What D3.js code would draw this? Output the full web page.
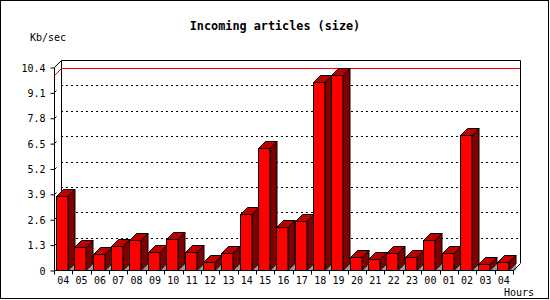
<!DOCTYPE html>
<html><head><meta charset="utf-8">
<script src="https://cdn.jsdelivr.net/npm/d3@7/dist/d3.min.js"></script>
<style>html,body{margin:0;padding:0;background:#fff;}svg{display:block;}</style>
</head><body>
<svg id="chart" width="550" height="300"></svg>
<script>
const hours = ["04","05","06","07","08","09","10","11","12","13","14","15","16","17","18","19","20","21","22","23","00","01","02","03","04"];
const values = [3.79,1.16,0.80,1.21,1.52,0.91,1.57,0.92,0.39,0.86,2.87,6.23,2.19,2.49,9.61,10.0,0.65,0.55,0.85,0.65,1.52,0.85,6.92,0.29,0.39];
const yTicks = [0,1.3,2.6,3.9,5.2,6.5,7.8,9.1,10.4];
const maxLine = [10.0];

const svg = d3.select("#chart");
const depth = 7;
const x0 = 54, x1 = 513, yBase = 270, yTop = 67;
const font = "'DejaVu Sans Mono', 'Liberation Mono', monospace";

const x = d3.scaleBand().domain(d3.range(hours.length)).range([x0, x1]).paddingInner(0).paddingOuter(0);
const y = d3.scaleLinear().domain([0, 10.4]).range([yBase, yTop]);

// outer border
svg.append("rect").attr("x",0.5).attr("y",0.5).attr("width",548).attr("height",298)
  .attr("fill","#fff").attr("stroke","#000");

// title
svg.append("text").attr("x",275).attr("y",30).attr("text-anchor","middle")
  .attr("font-family",font).attr("font-weight","bold").attr("font-size","11.8px").text("Incoming articles (size)");
svg.append("text").attr("x",30).attr("y",41).attr("font-family",font).attr("font-size","10px").text("Kb/sec");
svg.append("text").attr("x",504).attr("y",296).attr("font-family",font).attr("font-size","10px").text("Hours");

// back wall gridlines
const grid = svg.append("g");
yTicks.filter(v => v > 0 && v < 10.4).forEach(v => {
  grid.append("line").attr("x1", x0+depth).attr("x2", x1+depth)
    .attr("y1", Math.round(y(v))-depth+0.5).attr("y2", Math.round(y(v))-depth+0.5)
    .attr("stroke","#000").attr("stroke-dasharray","2,3");
  grid.append("line").attr("x1", x0+0.5).attr("x2", x0+2.5)
    .attr("y1", Math.round(y(v))+0.5).attr("y2", Math.round(y(v))-1.5).attr("stroke","#000");
});

// back wall frame
const frame = svg.append("g").attr("fill","none").attr("stroke","#000");
frame.append("path").attr("d",
  `M${x0+depth+0.5},${yBase-depth} L${x0+depth+0.5},${yTop-depth+0.5} L${x1+depth+0.5},${yTop-depth+0.5} L${x1+depth+0.5},${yBase-depth}`);
frame.append("line").attr("x1",x0+0.5).attr("y1",yTop+0.5).attr("x2",x0+depth+0.5).attr("y2",yTop-depth+0.5);

// max line
maxLine.forEach(v => {
  const yy = Math.round(y(v))+0.5;
  svg.append("path").attr("fill","none").attr("stroke","#f00")
    .attr("d", `M${x0+0.5},${yy} L${x0+depth+0.5},${yy-depth} L${x1+depth},${yy-depth}`);
});

// bars
const bw = 11.5;
const bars = svg.append("g").attr("stroke","#000").attr("stroke-width",1).attr("stroke-linejoin","miter");
values.forEach((v,i) => {
  const bx = Math.round(x(i) + 2) + 0.5;
  const by = Math.round(y(v)) + 0.5;
  const yb = yBase + 0.5;
  const br = Math.round(bx + bw);
  bars.append("path").attr("fill","#999").attr("stroke","none")
    .attr("d", `M${br},${yb} L${br+depth},${yb-depth} L${br+depth},${yb} Z`);
  bars.append("path").attr("fill","#800000")
    .attr("d", `M${br},${by} L${br+depth},${by-depth} L${br+depth},${yb-depth} L${br},${yb} Z`);
  bars.append("path").attr("fill","#c00000")
    .attr("d", `M${bx},${by} L${bx+depth},${by-depth} L${br+depth},${by-depth} L${br},${by} Z`);
  bars.append("rect").attr("fill","#ff0000").attr("x",bx).attr("y",by).attr("width",br-bx).attr("height",yb-by);
});

// axes
const yAxis = d3.axisLeft(y).tickValues(yTicks).tickSize(4).tickFormat(d => d === 0 ? "0" : d3.format(".1f")(d));
const gy = svg.append("g").attr("transform",`translate(${x0+0.5},0.5)`).call(yAxis);
gy.select(".domain").remove();
gy.append("line").attr("x1",0).attr("x2",0).attr("y1",yTop).attr("y2",yBase).attr("stroke","#000");
gy.selectAll("text").attr("font-family",font).attr("font-size","10px").attr("fill","#000").attr("dx","-2px").attr("dy","0.35em");

const xAxis = d3.axisBottom(x).tickFormat(i => hours[i]).tickSize(0);
const gx = svg.append("g").attr("transform",`translate(0,${yBase+0.5})`).call(xAxis);
gx.select(".domain").remove();
gx.append("line").attr("x1",x0).attr("x2",x1+1).attr("y1",0).attr("y2",0).attr("stroke","#000");
gx.append("line").attr("x1",x1+0.5).attr("x2",x1+depth+0.5).attr("y1",0).attr("y2",-depth).attr("stroke","#000");
gx.selectAll(".tick text").attr("font-family",font).attr("font-size","10px").attr("fill","#000").attr("dy","1em").attr("y",3);
const edges = d3.range(hours.length+1).map(i => i < hours.length ? x(i) : x1);
edges.forEach(e => gx.append("line").attr("x1",Math.round(e)+0.5).attr("x2",Math.round(e)+0.5).attr("y1",0).attr("y2",4).attr("stroke","#000"));
</script>
</body></html>
